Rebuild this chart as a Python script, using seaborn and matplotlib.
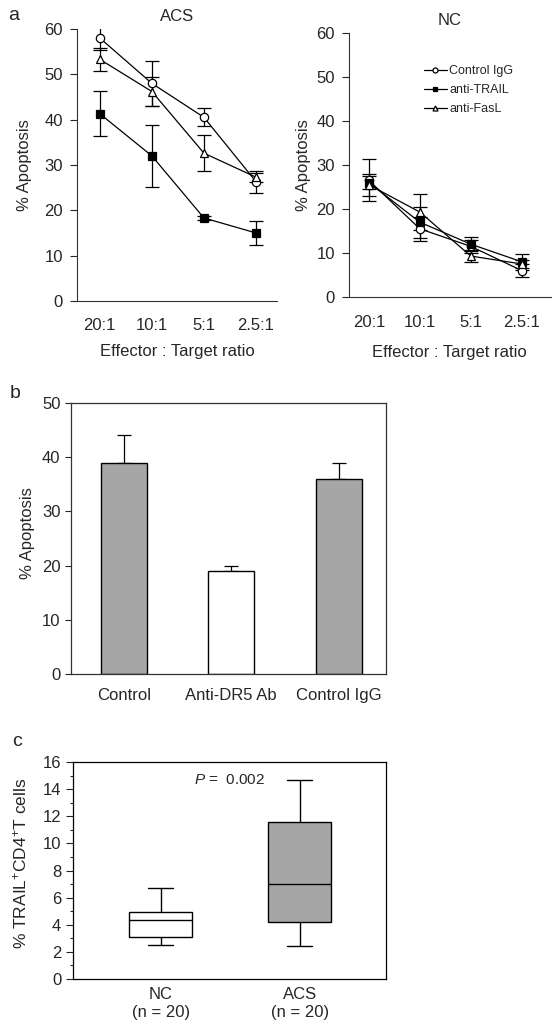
import numpy as np
import pandas as pd
import matplotlib
matplotlib.use("Agg")
import matplotlib.pyplot as plt
import seaborn as sns

sns.set_style("ticks")
plt.rcParams['font.family'] = ['Liberation Sans', 'DejaVu Sans']
plt.rcParams['mathtext.fontset'] = 'custom'
plt.rcParams['mathtext.rm'] = 'Liberation Sans'
plt.rcParams['mathtext.it'] = 'Liberation Sans:italic'

# panel a data
ratios = ["20:1", "10:1", "5:1", "2.5:1"]
treatments = ["Control IgG", "anti-TRAIL", "anti-FasL"]
acs_igg = [58, 48, 40.5, 26.3]
acs_igg_err = [2.7, 5, 2, 2.4]
acs_trail = [41.3, 32, 18.3, 15]
acs_trail_err = [5, 6.8, 0.5, 2.7]
acs_fasl = [53.3, 46.2, 32.6, 27.3]
acs_fasl_err = [2.5, 3.2, 4, 1]
nc_igg = [26.5, 15.5, 11.5, 6]
nc_igg_err = [4.8, 2.7, 1.4, 1.4]
nc_trail = [26, 17, 12, 8]
nc_trail_err = [1.5, 3.5, 1.6, 1.8]
nc_fasl = [25.5, 19.3, 9.3, 7.5]
nc_fasl_err = [2.5, 4, 1.4, 1]

# panel b data
b_groups = ["Control", "Anti-DR5 Ab", "Control IgG"]
b_values = [39, 19, 36]
b_err = [5, 1, 3]

# panel c data (five-number summaries: min, q1, median, q3, max)
c_groups = ["NC\n(n = 20)", "ACS\n(n = 20)"]
nc_summary = [2.5, 3.1, 4.35, 4.95, 6.7]
acs_summary = [2.4, 4.2, 7.0, 11.6, 14.65]

GRAY = "#a6a6a6"
fs = 12

fig = plt.figure(figsize=(5.53, 10.23), dpi=100)

styles = {"Control IgG": dict(marker="o", mfc="white"),
          "anti-TRAIL": dict(marker="s", mfc="black"),
          "anti-FasL": dict(marker="^", mfc="white")}


def line_panel(ax, series, errs, title, xlim, xpad, xlabpad, ylab_x, legend=False):
    rows = []
    for name, vals in zip(treatments, series):
        for i, v in enumerate(vals):
            rows.append({"pos": i, "val": v, "treat": name})
    df = pd.DataFrame(rows)
    for name, vals, err in zip(treatments, series, errs):
        sub = df[df.treat == name]
        ax.errorbar(sub.pos, sub.val, yerr=err, fmt="none", ecolor="black",
                    elinewidth=0.9, capsize=5, capthick=0.9, zorder=2)
        sns.lineplot(data=sub, x="pos", y="val", ax=ax, color="black", lw=0.9,
                     marker=styles[name]["marker"], markersize=6,
                     markerfacecolor=styles[name]["mfc"], markeredgecolor="black",
                     markeredgewidth=0.9, label=name if legend else None,
                     legend=legend, zorder=3)
    ax.set_xlim(*xlim)
    ax.set_ylim(0, 60)
    ax.set_yticks(range(0, 61, 10))
    ax.set_xticks(range(4))
    ax.set_xticklabels(ratios, fontsize=fs)
    ax.tick_params(axis="y", labelsize=fs, length=5, width=0.8, pad=5)
    ax.tick_params(axis="x", length=0, pad=xpad)
    ax.set_xlabel("Effector : Target ratio", fontsize=fs, labelpad=xlabpad)
    ax.set_ylabel("% Apoptosis", fontsize=fs)
    ax.yaxis.set_label_coords(ylab_x, 0.5)
    ax.set_title(title, fontsize=fs, pad=6)
    sns.despine(ax=ax)
    for s in ["left", "bottom"]:
        ax.spines[s].set_linewidth(0.8)
        ax.spines[s].set_color("#333333")


ax1 = fig.add_axes([0.139, 0.7058, 0.3617, 0.2659])
line_panel(ax1, [acs_igg, acs_trail, acs_fasl],
           [acs_igg_err, acs_trail_err, acs_fasl_err], "ACS", (-0.44, 3.4),
           12, 8, -0.225)

ax2 = fig.add_axes([0.631, 0.7097, 0.365, 0.2581])
line_panel(ax2, [nc_igg, nc_trail, nc_fasl],
           [nc_igg_err, nc_trail_err, nc_fasl_err], "NC", (-0.39, 3.57),
           13, 11, -0.19, legend=True)
leg = ax2.legend(loc="upper left", bbox_to_anchor=(0.345, 0.897), frameon=False,
                 fontsize=9, handlelength=1.9, handletextpad=0.15, labelspacing=0.55,
                 borderaxespad=0, markerscale=0.6)

# panel b
ax3 = fig.add_axes([0.1284, 0.3412, 0.5696, 0.2649])
dfb = pd.DataFrame({"group": b_groups, "value": b_values})
sns.barplot(data=dfb, x="group", y="value", hue="group",
            palette=[GRAY, "white", GRAY], edgecolor="black", linewidth=1,
            width=0.43, legend=False, ax=ax3, zorder=2)
ax3.errorbar(range(3), b_values, yerr=[[0, 0, 0], b_err], fmt="none",
             ecolor="black", elinewidth=0.9, capsize=5, capthick=0.9, zorder=1)
ax3.set_xlim(-0.49, 2.44)
ax3.set_ylim(0, 50)
ax3.set_yticks(range(0, 51, 10))
ax3.tick_params(axis="y", labelsize=fs, length=4, width=0.8)
ax3.tick_params(axis="x", labelsize=fs, length=0, pad=10)
ax3.set_xlabel("")
ax3.set_ylabel("% Apoptosis", fontsize=fs)
ax3.yaxis.set_label_coords(-0.115, 0.52)
for s in ax3.spines.values():
    s.set_linewidth(0.9)
    s.set_color("#333333")

# panel c
ax4 = fig.add_axes([0.132, 0.043, 0.566, 0.2121])
dfc = pd.DataFrame({"group": np.repeat(c_groups, 5),
                    "value": nc_summary + acs_summary})
sns.boxplot(data=dfc, x="group", y="value", hue="group", palette=["white", GRAY],
            whis=(0, 100), width=0.45, linecolor="black", linewidth=1,
            legend=False, ax=ax4)
# shorter whisker caps
for ln in ax4.lines:
    xd = np.asarray(ln.get_xdata(), dtype=float)
    yd = np.asarray(ln.get_ydata(), dtype=float)
    if len(xd) == 2 and yd[0] == yd[1] and abs(xd[1] - xd[0]) < 0.3:
        c = xd.mean()
        ln.set_xdata(c + (xd - c) * 0.8)
ax4.set_xlim(-0.63, 1.62)
ax4.set_ylim(0, 16)
ax4.set_yticks(range(0, 17, 2))
ax4.set_yticks(range(0, 17), minor=True)
ax4.tick_params(axis="y", which="major", labelsize=fs, length=5, width=0.8)
ax4.tick_params(axis="y", which="minor", length=2.5, width=0.8)
ax4.tick_params(axis="x", labelsize=fs, length=0, pad=6)
ax4.set_xlabel("")
ax4.set_ylabel("% TRAIL$^{+}$CD4$^{+}$T cells", fontsize=12.5)
ax4.yaxis.set_label_coords(-0.14, 0.535)
for s in ax4.spines.values():
    s.set_linewidth(0.9)
    s.set_color("black")
ax4.text(0.5, 0.95, "$P$ =  0.002", transform=ax4.transAxes, ha="center",
         va="top", fontsize=11)

fig.text(8 / 553, 1 - 15 / 1023, "a", fontsize=14, va="center")
fig.text(10 / 553, 1 - 393 / 1023, "b", fontsize=14, va="center")
fig.text(12 / 553, 1 - 742 / 1023, "c", fontsize=14, va="center")

fig.savefig("out.png", dpi=100)
